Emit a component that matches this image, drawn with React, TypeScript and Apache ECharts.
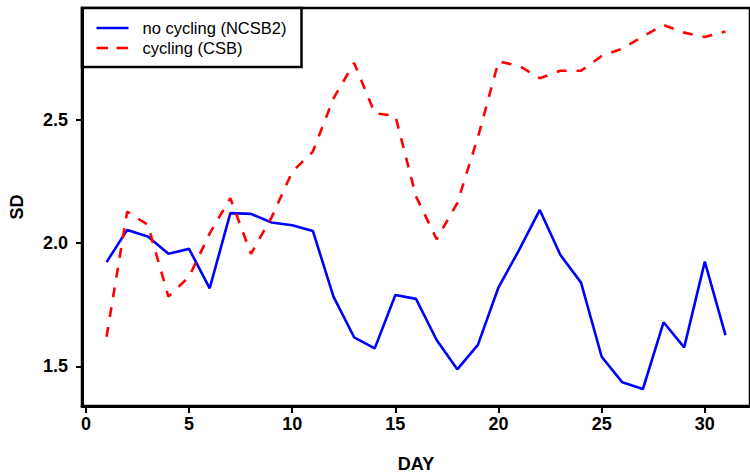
import React, { useEffect, useRef } from "react";
import * as echarts from "echarts";

const days = [1,2,3,4,5,6,7,8,9,10,11,12,13,14,15,16,17,18,19,20,21,22,23,24,25,26,27,28,29,30,31];
const noCycling = [1.923, 2.054, 2.027, 1.957, 1.977, 1.817, 2.122, 2.119, 2.084, 2.073, 2.050, 1.783, 1.618, 1.573, 1.790, 1.774, 1.607, 1.488, 1.587, 1.821, 1.973, 2.135, 1.952, 1.840, 1.539, 1.435, 1.408, 1.679, 1.577, 1.925, 1.627];
const cycling = [1.62, 2.128, 2.075, 1.783, 1.864, 2.04, 2.183, 1.957, 2.105, 2.29, 2.372, 2.588, 2.732, 2.528, 2.517, 2.19, 2.016, 2.163, 2.43, 2.738, 2.72, 2.67, 2.70, 2.70, 2.76, 2.79, 2.84, 2.886, 2.855, 2.837, 2.86];
const seriesNames = ["no cycling (NCSB2)", "cycling (CSB)"];
const xTicks = [0, 5, 10, 15, 20, 25, 30];
const yTicks = [1.5, 2.0, 2.5];

export default function App() {
  const ref = useRef<HTMLDivElement>(null);
  useEffect(() => {
    if (!ref.current) return;
    const chart = echarts.init(ref.current, null, { renderer: "svg" });
    const font = "'Liberation Sans', Arial, Helvetica, sans-serif";
    chart.setOption({
      animation: false,
      backgroundColor: "#ffffff",
      grid: {
        left: 82, top: 8, right: 0, bottom: 68,
        containLabel: false,
        outerBoundsMode: "none",
        show: true, borderColor: "#000", borderWidth: 2.5, backgroundColor: "transparent",
      },
      xAxis: {
        type: "value",
        min: -0.19,
        max: 32.19,
        name: "DAY",
        nameLocation: "middle",
        nameGap: 49,
        nameTextStyle: { fontFamily: font, fontWeight: "bold", fontSize: 18, color: "#000" },
        splitLine: { show: false },
        axisLine: { show: true, onZero: false, lineStyle: { color: "#000", width: 3 } },
        axisTick: { show: true, length: 7, customValues: xTicks, lineStyle: { color: "#000", width: 2 } },
        axisLabel: {
          customValues: xTicks, margin: 9, fontFamily: font, fontWeight: "bold", fontSize: 18, color: "#000",
          formatter: (v: number) => String(v),
        },
      },
      yAxis: {
        type: "value",
        min: 1.339,
        max: 2.955,
        name: "SD",
        nameLocation: "middle",
        nameGap: 56,
        nameTextStyle: { fontFamily: font, fontWeight: "bold", fontSize: 18, color: "#000" },
        splitLine: { show: false },
        axisLine: { show: true, onZero: false, lineStyle: { color: "#000", width: 3 } },
        axisTick: { show: true, length: 6, customValues: yTicks, lineStyle: { color: "#000", width: 2 } },
        axisLabel: {
          customValues: yTicks, margin: 14, fontFamily: font, fontWeight: "bold", fontSize: 18, color: "#000",
          formatter: (v: number) => v.toFixed(1),
        },
      },
      series: [
        {
          name: seriesNames[0],
          type: "line",
          data: days.map((d, i) => [d, noCycling[i]]),
          symbol: "none",
          showSymbol: false,
          lineStyle: { color: "#0000ff", width: 2.6 },
        },
        {
          name: seriesNames[1],
          type: "line",
          data: days.map((d, i) => [d, cycling[i]]),
          symbol: "none",
          showSymbol: false,
          lineStyle: { color: "#ff0000", width: 2.6, type: [10, 10], cap: "butt" },
        },
      ],
      graphic: [
        {
          type: "group",
          z: 100,
          children: [
            { type: "rect", shape: { x: 82, y: 8, width: 219.5, height: 59 }, style: { fill: "#fff", stroke: "#000", lineWidth: 2.5 } },
            { type: "line", shape: { x1: 96.5, y1: 28, x2: 128.5, y2: 28 }, style: { stroke: "#0000ff", lineWidth: 2.6 } },
            { type: "line", shape: { x1: 96.5, y1: 48, x2: 128.5, y2: 48 }, style: { stroke: "#ff0000", lineWidth: 2.6, lineDash: [11.5, 8.5] } },
            { type: "text", x: 142.5, y: 28, style: { text: seriesNames[0], font: `16.5px ${font}`, fill: "#000", verticalAlign: "middle" } },
            { type: "text", x: 142.5, y: 48, style: { text: seriesNames[1], font: `16.5px ${font}`, fill: "#000", verticalAlign: "middle" } },
          ],
        },
      ],
    });
    return () => chart.dispose();
  }, []);
  return <div ref={ref} style={{ position: "fixed", left: 0, top: 0, width: 750, height: 474 }} />;
}
